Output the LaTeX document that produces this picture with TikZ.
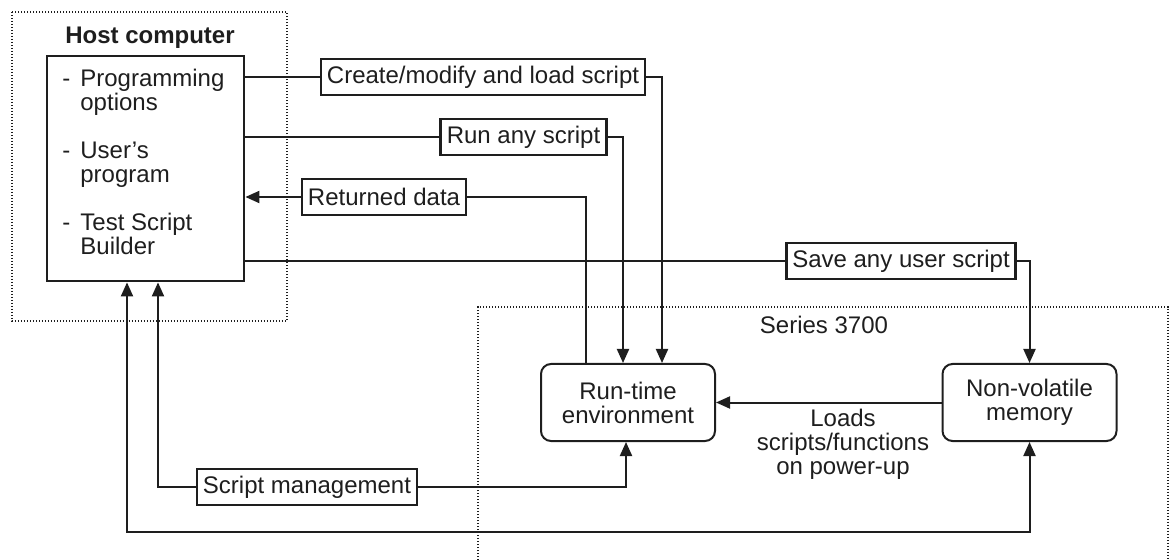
\documentclass[tikz,border=0pt]{standalone}
\usepackage{fontspec}
\setmainfont{Liberation Sans}
\usetikzlibrary{arrows.meta}
\definecolor{ink}{RGB}{30,30,30}
\begin{document}
\begin{tikzpicture}[x=0.5pt,y=-0.5pt,
  font=\fontsize{12pt}{12pt}\selectfont, text=ink,
  lbl/.style={draw=ink, line width=1.4pt, inner xsep=3pt, inner ysep=0pt, minimum height=18pt, fill=white},
  hostbox/.style={draw=ink, line width=1.4pt, inner sep=0pt},
  rbox/.style={draw=ink, line width=1pt, rounded corners=5pt, align=center, minimum width=87pt, minimum height=38.5pt, inner sep=0pt},
  conn/.style={draw=ink, line width=1pt},
  arr/.style={-{Triangle[length=7pt,width=6pt]}},
  arrs/.style={{Triangle[length=7pt,width=6pt]}-{Triangle[length=7pt,width=6pt]}},
  dotbox/.style={draw=ink, line width=0.6pt, dash pattern=on 0.6pt off 0.9pt},
  txt/.style={anchor=base west, inner sep=0pt}]
\useasboundingbox (0,0) rectangle (1170,560);
% frames
\draw[dotbox] (12,12) rectangle (287,321);
\draw[dotbox] (478,560) -- (478,307) -- (1168,307) -- (1168,560);
\node[anchor=base, inner sep=0pt, font=\fontsize{12pt}{12pt}\selectfont\bfseries] (hosttitle) at (150,44) {Host computer};
\node[anchor=base, inner sep=0pt] (series) at (824,334) {Series 3700};
% host box
\node[hostbox, minimum width=98.5pt, minimum height=112.5pt] (host) at (145.5,168.5) {};
\node[txt] (d1) at (62,87) {-};
\node[txt] (t1a) at (80,87) {Programming};
\node[txt] (t1b) at (80,111) {options};
\node[txt] (d2) at (62,159) {-};
\node[txt] (t2a) at (80,159) {User’s};
\node[txt] (t2b) at (80,183) {program};
\node[txt] (d3) at (62,231) {-};
\node[txt] (t3a) at (80,231) {Test Script};
\node[txt] (t3b) at (80,255) {Builder};
% label boxes
\node[lbl] (cre) at (483,77) {Create/modify and load script};
\node[lbl] (run) at (523.5,137) {Run any script};
\node[lbl] (ret) at (384,197) {Returned data};
\node[lbl] (save) at (901,261) {Save any user script};
\node[lbl] (sm) at (307,487) {Script management};
% rounded boxes
\node[rbox] (rt) at (628,402.5) {Run-time\\environment};
\node[rbox] (nv) at (1029.5,402.5) {Non-volatile\\memory};
\node[align=center, inner sep=0pt] (ld) at (843,444) {Loads\\scripts/functions\\on power-up};
% helper coordinates
\coordinate (xc) at (662,0);
\coordinate (xr) at (623,0);
\coordinate (xd) at (586,0);
\coordinate (xs) at (158,0);
\coordinate (xb) at (127,0);
\coordinate (xm) at (626,0);
\coordinate (yb) at (0,532);
% connectors
\draw[conn] (host.east |- cre) -- (cre.west);
\draw[conn,arr] (cre.east) -| (xc |- rt.north);
\draw[conn] (host.east |- run) -- (run.west);
\draw[conn,arr] (run.east) -| (xr |- rt.north);
\draw[conn] (xd |- rt.north) |- (ret.east);
\draw[conn,arr] (ret.west) -- (host.east |- ret);
\draw[conn] (host.east |- save) -- (save.west);
\draw[conn,arr] (save.east) -| (nv.north);
\draw[conn,arr] (nv.west) -- (rt.east);
\draw[conn,arr] (sm.west) -| (xs |- host.south);
\draw[conn,arr] (sm.east) -| (xm |- rt.south);
\draw[conn,arrs] (xb |- host.south) -- (xb |- yb) -| (nv.south);
\end{tikzpicture}
\end{document}
